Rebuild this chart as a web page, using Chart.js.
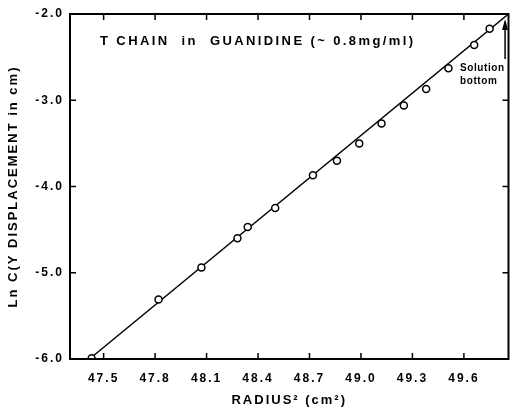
<!DOCTYPE html>
<html>
<head>
<meta charset="utf-8">
<script src="https://cdn.jsdelivr.net/npm/chart.js@4.4.1/dist/chart.umd.min.js"></script>
<style>
  html, body { margin: 0; padding: 0; background: #fff; }
  #wrap { width: 514px; height: 408px; position: relative; }
</style>
</head>
<body>
<div id="wrap"><canvas id="chartCanvas"></canvas></div>
<script>
// measured points: radius^2 (cm^2) vs ln C
const radiusSq = [47.43, 47.82, 48.07, 48.28, 48.34, 48.50, 48.72, 48.86, 48.99, 49.12, 49.25, 49.38, 49.51, 49.66, 49.75];
const lnC = [-5.99, -5.31, -4.94, -4.60, -4.47, -4.25, -3.87, -3.70, -3.50, -3.27, -3.06, -2.87, -2.63, -2.36, -2.17];

// fitted line ends
const fitX = [47.43, 49.86];
const fitY = [-5.98, -2.0];

const xTicks = [47.5, 47.8, 48.1, 48.4, 48.7, 49.0, 49.3, 49.6];
const yTicks = [-6.0, -5.0, -4.0, -3.0, -2.0];

const titleText = 'T CHAIN  in  GUANIDINE (~ 0.8mg/ml)';
const noteLines = ['Solution', 'bottom'];
const bottomX = 49.84;

const FONT = '"Liberation Sans", Arial, sans-serif';

// wide lettering like the old typewriter labels
const spacingPlugin = {
  id: 'spacing',
  beforeUpdate(chart) { chart.ctx.letterSpacing = '2px'; },
  beforeLayout(chart) { chart.ctx.letterSpacing = '2px'; },
  beforeDraw(chart) { chart.ctx.letterSpacing = '2px'; }
};

// frame, inward ticks, title and the solution-bottom arrow
const framePlugin = {
  id: 'frame',
  afterDraw(chart) {
    const ctx = chart.ctx;
    const a = chart.chartArea;
    const xs = chart.scales.x, ys = chart.scales.y;
    ctx.save();
    ctx.strokeStyle = '#000';
    ctx.lineWidth = 2;
    ctx.strokeRect(a.left, a.top, a.right - a.left, a.bottom - a.top);
    ctx.lineWidth = 1.5;
    xTicks.forEach(v => {
      const px = xs.getPixelForValue(v);
      ctx.beginPath();
      ctx.moveTo(px, a.bottom); ctx.lineTo(px, a.bottom - 6);
      ctx.moveTo(px, a.top); ctx.lineTo(px, a.top + 6);
      ctx.stroke();
    });
    yTicks.forEach(v => {
      const py = ys.getPixelForValue(v);
      ctx.beginPath();
      ctx.moveTo(a.left, py); ctx.lineTo(a.left + 6, py);
      ctx.moveTo(a.right, py); ctx.lineTo(a.right - 6, py);
      ctx.stroke();
    });

    ctx.fillStyle = '#000';
    ctx.letterSpacing = '2.4px';
    ctx.font = 'bold 13px ' + FONT;
    ctx.textBaseline = 'middle';
    ctx.textAlign = 'left';
    ctx.fillText(titleText, a.left + 30, a.top + 27);

    ctx.letterSpacing = '0.6px';
    ctx.font = 'bold 10px ' + FONT;
    ctx.fillText(noteLines[0], a.left + 390, a.top + 54);
    ctx.fillText(noteLines[1], a.left + 390, a.top + 67);

    const ax = xs.getPixelForValue(bottomX);
    ctx.lineWidth = 1.5;
    ctx.beginPath();
    ctx.moveTo(ax, a.top + 8); ctx.lineTo(ax, a.top + 45);
    ctx.stroke();
    ctx.beginPath();
    ctx.moveTo(ax, a.top + 5); ctx.lineTo(ax - 3, a.top + 16); ctx.lineTo(ax + 3, a.top + 16);
    ctx.closePath();
    ctx.fill();
    ctx.restore();
  }
};

function renderChart() {
  const ctx = document.getElementById('chartCanvas').getContext('2d');
  new Chart(ctx, {
    type: 'scatter',
    data: {
      datasets: [
        {
          label: 'fit',
          data: fitX.map((x, i) => ({ x: x, y: fitY[i] })),
          showLine: true,
          borderColor: '#000',
          borderWidth: 1.5,
          pointRadius: 0,
          order: 2
        },
        {
          label: 'ln C',
          data: radiusSq.map((x, i) => ({ x: x, y: lnC[i] })),
          pointRadius: 3.5,
          pointBorderWidth: 1.5,
          pointBorderColor: '#000',
          pointBackgroundColor: '#fff',
          order: 1
        }
      ]
    },
    options: {
      responsive: true,
      maintainAspectRatio: false,
      animation: false,
      layout: { padding: { top: 14, right: 1, left: 0, bottom: 0 } },
      scales: {
        x: {
          type: 'linear',
          min: 47.304,
          max: 49.86,
          afterBuildTicks: s => { s.ticks = xTicks.map(v => ({ value: v })); },
          afterFit: s => { s.height = 49; },
          grid: { display: false, drawTicks: false },
          border: { display: false },
          ticks: {
            color: '#000',
            padding: 12,
            font: { family: FONT, size: 12, weight: 'bold' },
            callback: v => v.toFixed(1)
          },
          title: {
            display: true,
            text: 'RADIUS\u00b2 (cm\u00b2)',
            color: '#000',
            padding: { top: 5, bottom: 0 },
            font: { family: FONT, size: 13, weight: 'bold' }
          }
        },
        y: {
          type: 'linear',
          min: -6,
          max: -2,
          afterBuildTicks: s => { s.ticks = yTicks.map(v => ({ value: v })); },
          afterFit: s => { s.width = 70; },
          grid: { display: false, drawTicks: false },
          border: { display: false },
          ticks: {
            color: '#000',
            padding: 6,
            font: { family: FONT, size: 12, weight: 'bold' },
            callback: v => v.toFixed(1)
          },
          title: {
            display: true,
            text: 'Ln C(Y DISPLACEMENT in cm)',
            color: '#000',
            padding: { top: 6, bottom: 0 },
            font: { family: FONT, size: 13, weight: 'bold' }
          }
        }
      },
      plugins: {
        legend: { display: false },
        tooltip: { enabled: false }
      }
    },
    plugins: [spacingPlugin, framePlugin]
  });
}

document.addEventListener('DOMContentLoaded', () => {
  renderChart();
});
</script>
</body>
</html>
